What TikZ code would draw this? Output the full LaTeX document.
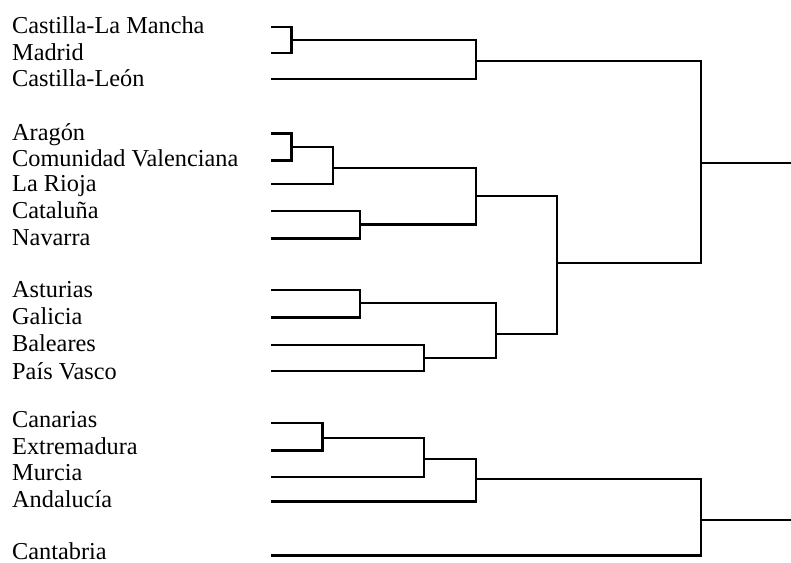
\documentclass[tikz,border=0pt]{standalone}
\usepackage{fontspec}
\setmainfont{Liberation Serif}
\begin{document}
\begin{tikzpicture}[x=1pt,y=-1pt,
  lbl/.style={anchor=base west, inner sep=0pt, font=\fontsize{24.3}{28}\selectfont},
  br/.style={line width=2.1pt, line join=miter}]
\useasboundingbox (0,0) rectangle (791,562);
% leaf labels
\node[lbl] (t1)  at (12,33)    {Castilla-La Mancha};
\node[lbl] (t2)  at (12,60)    {Madrid};
\node[lbl] (t3)  at (12,86.5)  {Castilla-León};
\node[lbl] (t4)  at (12,140)   {Aragón};
\node[lbl] (t5)  at (12,166)   {Comunidad Valenciana};
\node[lbl] (t6)  at (12,191)   {La Rioja};
\node[lbl] (t7)  at (12,218)   {Cataluña};
\node[lbl] (t8)  at (12,245)   {Navarra};
\node[lbl] (t9)  at (12,297)   {Asturias};
\node[lbl] (t10) at (12,324)   {Galicia};
\node[lbl] (t11) at (12,351.5) {Baleares};
\node[lbl] (t12) at (12,379)   {País Vasco};
\node[lbl] (t13) at (12,427)   {Canarias};
\node[lbl] (t14) at (12,454)   {Extremadura};
\node[lbl] (t15) at (12,480.5) {Murcia};
\node[lbl] (t16) at (12,507.5) {Andalucía};
\node[lbl] (t17) at (12,559.5) {Cantabria};
% leaf line starts
\coordinate (c1)  at (271,27);
\coordinate (c2)  at (271,53);
\coordinate (c3)  at (271,79);
\coordinate (c4)  at (271,133.5);
\coordinate (c5)  at (271,160.5);
\coordinate (c6)  at (271,184);
\coordinate (c7)  at (271,211);
\coordinate (c8)  at (271,238.5);
\coordinate (c9)  at (271,290);
\coordinate (c10) at (271,317.5);
\coordinate (c11) at (271,345);
\coordinate (c12) at (271,371);
\coordinate (c13) at (271,423);
\coordinate (c14) at (271,450.5);
\coordinate (c15) at (271,477);
\coordinate (c16) at (271,501.5);
\coordinate (c17) at (271,555.5);
% merge points
\coordinate (m1)  at (291.5,40);
\coordinate (m2)  at (476,61);
\coordinate (m3)  at (291.5,147);
\coordinate (m4)  at (333,168);
\coordinate (m5)  at (360,224.5);
\coordinate (m6)  at (476,196);
\coordinate (m7)  at (360,303);
\coordinate (m8)  at (424,358);
\coordinate (m9)  at (496,334);
\coordinate (m10) at (557,263);
\coordinate (m11) at (701,163);
\coordinate (m12) at (322.5,438);
\coordinate (m13) at (424,459);
\coordinate (m14) at (476,479);
\coordinate (m15) at (701,520);
\coordinate (r1)  at (791,163);
\coordinate (r2)  at (791,520);
% brackets
\draw[br] (c1) -| (m1) |- (c2);
\draw[br] (m1) -| (m2) |- (c3);
\draw[br] (c4) -| (m3) |- (c5);
\draw[br] (m3) -| (m4) |- (c6);
\draw[br] (c7) -| (m5) |- (c8);
\draw[br] (m4) -| (m6) |- (m5);
\draw[br] (c9) -| (m7) |- (c10);
\draw[br] (c11) -| (m8) |- (c12);
\draw[br] (m7) -| (m9) |- (m8);
\draw[br] (m6) -| (m10) |- (m9);
\draw[br] (m2) -| (m11) |- (m10);
\draw[br] (m11) -- (r1);
\draw[br] (c13) -| (m12) |- (c14);
\draw[br] (m12) -| (m13) |- (c15);
\draw[br] (m13) -| (m14) |- (c16);
\draw[br] (m14) -| (m15) |- (c17);
\draw[br] (m15) -- (r2);
\end{tikzpicture}
\end{document}
